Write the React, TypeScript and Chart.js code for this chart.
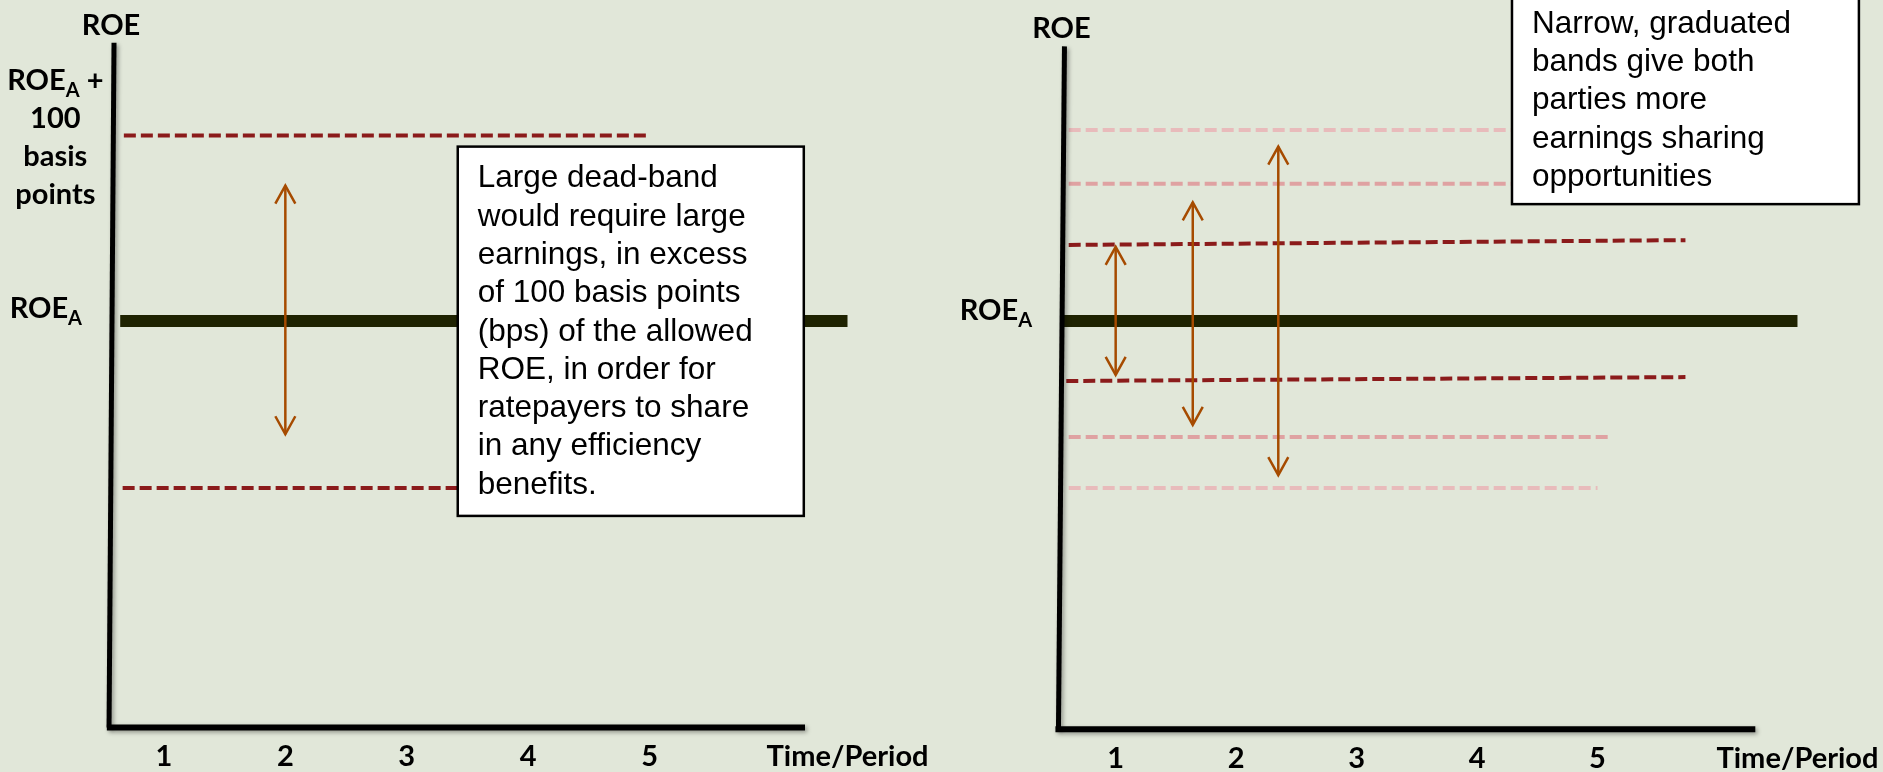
import React, { useEffect, useRef } from "react";
import { Chart, registerables } from "chart.js";

Chart.register(...registerables);

// ---------- shared ----------
const PERIODS = [1, 2, 3, 4, 5];
const PERIOD_LABELS = ["1", "2", "3", "4", "5"];
const X_TITLE = "Time/Period";
const Y_TITLE = "ROE";
const Y_MIN = -243; // basis points relative to allowed ROE
const Y_MAX = 173;

// ---------- left panel: wide dead-band ----------
const leftYAxis = [{ x: 0.548, y: -219 }, { x: 0.589, y: 150 }];
const leftXAxis = [{ x: 0.53, y: -219 }, { x: 6.28, y: -219 }];
const leftAllowedROE = [{ x: 0.64, y: 0 }, { x: 6.63, y: 0 }];
const leftUpperBand = [{ x: 0.67, y: 100 }, { x: 4.99, y: 100 }];
const leftLowerBand = [{ x: 0.66, y: -90 }, { x: 4.99, y: -90 }];
const leftArrow = [{ x: 2.0, y: -61 }, { x: 2.0, y: 73 }];
const leftNoteBox = [{ x: 3.42, y: 94 }, { x: 6.27, y: -105 }];
const leftNoteLines = [
  "Large dead-band",
  "would require large",
  "earnings, in excess",
  "of 100 basis points",
  "(bps) of the allowed",
  "ROE, in order for",
  "ratepayers to share",
  "in any efficiency",
  "benefits.",
];
const leftUpperLabel = ["ROE_A +", "100", "basis", "points"];
const leftAllowedLabel = ["ROE_A"];

// ---------- right panel: narrow graduated bands ----------
const rightYAxis = [{ x: 0.525, y: -220 }, { x: 0.575, y: 148 }];
const rightXAxis = [{ x: 0.5, y: -220 }, { x: 6.31, y: -220 }];
const rightAllowedROE = [{ x: 0.57, y: 0 }, { x: 6.66, y: 0 }];
const rightOuterUpper = [{ x: 0.61, y: 103 }, { x: 5.0, y: 103 }];
const rightMiddleUpper = [{ x: 0.61, y: 74 }, { x: 5.12, y: 74 }];
const rightInnerUpper = [{ x: 0.61, y: 41 }, { x: 5.73, y: 43.6 }];
const rightInnerLower = [{ x: 0.59, y: -32.3 }, { x: 5.73, y: -30.2 }];
const rightMiddleLower = [{ x: 0.61, y: -62.5 }, { x: 5.12, y: -62.5 }];
const rightOuterLower = [{ x: 0.61, y: -90 }, { x: 5.0, y: -90 }];
const rightArrow1 = [{ x: 1.0, y: -29 }, { x: 1.0, y: 40 }];
const rightArrow2 = [{ x: 1.64, y: -56 }, { x: 1.64, y: 64 }];
const rightArrow3 = [{ x: 2.35, y: -83 }, { x: 2.35, y: 94 }];
const rightNoteBox = [{ x: 4.29, y: 175 }, { x: 7.17, y: 63 }];
const rightNoteLines = [
  "Narrow, graduated",
  "bands give both",
  "parties more",
  "earnings sharing",
  "opportunities",
];
const rightAllowedLabel = ["ROE_A"];

// ---------- styles ----------
const BG = "#E1E7D9";
const AXIS = "#000000";
const ALLOWED = "#1F2301";
const DARK_RED = "#8B1B1B";
const MID_PINK = "#DFA2A2";
const LIGHT_PINK = "#E8BBBB";
const ARROW = "#A64B00";
const LABEL_FONT = "Lato, 'Liberation Sans', sans-serif";
const NOTE_FONT = "'Liberation Sans', Arial, sans-serif";

const seg = (data: any[], color: string, width: number, dash: number[] = [], extra: any = {}) => ({
  data,
  borderColor: color,
  backgroundColor: color,
  borderWidth: width,
  borderDash: dash,
  borderCapStyle: "butt",
  pointRadius: 0,
  pointHoverRadius: 0,
  fill: false,
  tension: 0,
  ...extra,
});

function parseRich(str: string) {
  const out: { t: string; sub: boolean }[] = [];
  const re = /_(\w)/g;
  let last = 0;
  let m: RegExpExecArray | null;
  while ((m = re.exec(str))) {
    if (m.index > last) out.push({ t: str.slice(last, m.index), sub: false });
    out.push({ t: m[1], sub: true });
    last = m.index + m[0].length;
  }
  if (last < str.length) out.push({ t: str.slice(last), sub: false });
  return out;
}

function drawRich(ctx: CanvasRenderingContext2D, str: string, x: number, y: number, align: string, size: number) {
  const parts = parseRich(str);
  const main = `bold ${size}px ${LABEL_FONT}`;
  const sub = `bold ${Math.round(size * 0.7)}px ${LABEL_FONT}`;
  let total = 0;
  const widths = parts.map((p) => {
    ctx.font = p.sub ? sub : main;
    const w = ctx.measureText(p.t).width;
    total += w;
    return w;
  });
  let cx = align === "center" ? x - total / 2 : align === "right" ? x - total : x;
  ctx.textAlign = "left";
  ctx.textBaseline = "alphabetic";
  parts.forEach((p, i) => {
    ctx.font = p.sub ? sub : main;
    ctx.fillText(p.t, cx, p.sub ? y + 7 : y);
    cx += widths[i];
  });
}

function makePlugin(spec: any) {
  return {
    id: "panelDecor",
    beforeDatasetDraw(chart: any, args: any) {
      const ds = chart.data.datasets[args.index];
      if (ds.shadow) {
        const ctx = chart.ctx;
        ctx.save();
        ctx.shadowColor = "rgba(0,0,0,0.35)";
        ctx.shadowBlur = 4;
        ctx.shadowOffsetX = 2;
        ctx.shadowOffsetY = 2;
      }
    },
    afterDatasetDraw(chart: any, args: any) {
      const ds = chart.data.datasets[args.index];
      if (ds.shadow) chart.ctx.restore();
    },
    afterDatasetsDraw(chart: any) {
      const ctx: CanvasRenderingContext2D = chart.ctx;
      const xs = chart.scales.x;
      const ys = chart.scales.y;
      const px = (v: number) => xs.getPixelForValue(v);
      const py = (v: number) => ys.getPixelForValue(v);

      // arrow heads
      chart.data.datasets.forEach((ds: any, i: number) => {
        if (!ds.arrow) return;
        const meta = chart.getDatasetMeta(i);
        const pts = meta.data;
        const a = pts[0];
        const b = pts[pts.length - 1];
        ctx.save();
        ctx.strokeStyle = ds.borderColor;
        ctx.lineWidth = ds.borderWidth;
        ctx.lineJoin = "miter";
        const head = (tx: number, ty: number, dir: number) => {
          ctx.beginPath();
          ctx.moveTo(tx - 10, ty + dir * 18);
          ctx.lineTo(tx, ty);
          ctx.lineTo(tx + 10, ty + dir * 18);
          ctx.stroke();
        };
        head(b.x, b.y, 1);
        head(a.x, a.y, -1);
        ctx.restore();
      });

      ctx.save();
      ctx.fillStyle = "#000";
      const size = 29;

      // y axis title
      const top = spec.yAxis[1];
      const bottom = spec.yAxis[0];
      ctx.font = `bold ${size}px ${LABEL_FONT}`;
      ctx.textAlign = "center";
      ctx.textBaseline = "alphabetic";
      ctx.fillText(Y_TITLE, px(top.x) - 3, py(top.y) - 8);

      // x tick labels and title
      const base = py(spec.xAxis[0].y) + 39;
      PERIODS.forEach((p, i) => {
        ctx.font = `bold ${size}px ${LABEL_FONT}`;
        ctx.textAlign = "center";
        ctx.fillText(PERIOD_LABELS[i], px(p), base);
      });
      const allowedEnd = spec.allowed[spec.allowed.length - 1].x;
      ctx.fillText(X_TITLE, px(allowedEnd), base);

      // y labels
      const axisXAt = (v: number) => bottom.x + ((top.x - bottom.x) * (v - bottom.y)) / (top.y - bottom.y);
      spec.yLabels.forEach((l: any) => {
        const ax = px(axisXAt(l.v));
        const y0 = py(l.v) + l.dy;
        l.lines.forEach((s: string, k: number) => {
          drawRich(ctx, s, ax + l.dx, y0 + k * 38, l.align, size);
        });
      });
      ctx.restore();

      // note box
      const nb = spec.noteBox;
      const x1 = px(nb[0].x);
      const x2 = px(nb[1].x);
      const y1 = py(nb[0].y);
      const y2 = py(nb[1].y);
      ctx.save();
      ctx.fillStyle = "#FFFFFF";
      ctx.fillRect(x1, y1, x2 - x1, y2 - y1);
      ctx.strokeStyle = "#000";
      ctx.lineWidth = 2.5;
      ctx.strokeRect(x1, y1, x2 - x1, y2 - y1);
      const fs = 31.5;
      const lh = 38.3;
      const cap = fs * 0.716;
      const n = spec.noteLines.length;
      const blockH = cap + (n - 1) * lh;
      const first = (y1 + y2) / 2 - blockH / 2 + cap - 2;
      ctx.fillStyle = "#000";
      ctx.font = `${fs}px ${NOTE_FONT}`;
      ctx.textAlign = "left";
      ctx.textBaseline = "alphabetic";
      spec.noteLines.forEach((s: string, k: number) => {
        ctx.fillText(s, x1 + 20, first + k * lh);
      });
      ctx.restore();
    },
  };
}

const leftSpec = {
  left: 0,
  width: 941,
  xMin: -0.35,
  xMax: 7.4,
  yAxis: leftYAxis,
  xAxis: leftXAxis,
  allowed: leftAllowedROE,
  noteBox: leftNoteBox,
  noteLines: leftNoteLines,
  yLabels: [
    { v: 100, lines: leftUpperLabel, align: "center", dx: -58, dy: -45 },
    { v: 0, lines: leftAllowedLabel, align: "right", dx: -30, dy: -3 },
  ],
  datasets: [
    seg(leftYAxis, AXIS, 5, [], { order: 0, shadow: true }),
    seg(leftXAxis, AXIS, 6, [], { order: 0, shadow: true }),
    seg(leftArrow, ARROW, 2.5, [], { order: 1, arrow: true }),
    seg(leftAllowedROE, ALLOWED, 12, [], { order: 3 }),
    seg(leftUpperBand, DARK_RED, 4, [12, 5], { order: 4 }),
    seg(leftLowerBand, DARK_RED, 4, [12, 5], { order: 4 }),
  ],
};

const rightSpec = {
  left: 941,
  width: 942,
  xMin: -0.45,
  xMax: 7.37,
  yAxis: rightYAxis,
  xAxis: rightXAxis,
  allowed: rightAllowedROE,
  noteBox: rightNoteBox,
  noteLines: rightNoteLines,
  yLabels: [{ v: 0, lines: rightAllowedLabel, align: "right", dx: -30, dy: -1 }],
  datasets: [
    seg(rightYAxis, AXIS, 5, [], { order: 0, shadow: true }),
    seg(rightXAxis, AXIS, 6, [], { order: 0, shadow: true }),
    seg(rightArrow1, ARROW, 2.5, [], { order: 1, arrow: true }),
    seg(rightArrow2, ARROW, 2.5, [], { order: 1, arrow: true }),
    seg(rightArrow3, ARROW, 2.5, [], { order: 1, arrow: true }),
    seg(rightAllowedROE, ALLOWED, 12, [], { order: 3 }),
    seg(rightInnerUpper, DARK_RED, 4, [12, 5], { order: 4 }),
    seg(rightInnerLower, DARK_RED, 4, [12, 5], { order: 4 }),
    seg(rightMiddleUpper, MID_PINK, 4, [12, 5], { order: 5 }),
    seg(rightMiddleLower, MID_PINK, 4, [12, 5], { order: 5 }),
    seg(rightOuterUpper, LIGHT_PINK, 4, [12, 5], { order: 6 }),
    seg(rightOuterLower, LIGHT_PINK, 4, [12, 5], { order: 6 }),
  ],
};

function Panel({ spec }: { spec: any }) {
  const ref = useRef<HTMLCanvasElement>(null);
  useEffect(() => {
    if (!ref.current) return;
    const chart = new Chart(ref.current, {
      type: "line",
      data: { datasets: spec.datasets },
      options: {
        animation: false,
        responsive: false,
        maintainAspectRatio: false,
        devicePixelRatio: 1,
        events: [],
        layout: { padding: 0 },
        plugins: { legend: { display: false }, tooltip: { enabled: false }, title: { display: false } },
        scales: {
          x: { type: "linear", min: spec.xMin, max: spec.xMax, display: false },
          y: { type: "linear", min: Y_MIN, max: Y_MAX, display: false },
        },
      },
      plugins: [makePlugin(spec)],
    } as any);
    return () => chart.destroy();
  }, [spec]);
  return (
    <canvas
      ref={ref}
      width={spec.width}
      height={772}
      style={{ position: "absolute", left: spec.left, top: 0, width: spec.width, height: 772, display: "block" }}
    />
  );
}

export default function App() {
  return (
    <div
      style={{
        position: "fixed",
        left: 0,
        top: 0,
        width: 1883,
        height: 772,
        background: BG,
        overflow: "hidden",
      }}
    >
      <Panel spec={leftSpec} />
      <Panel spec={rightSpec} />
    </div>
  );
}
